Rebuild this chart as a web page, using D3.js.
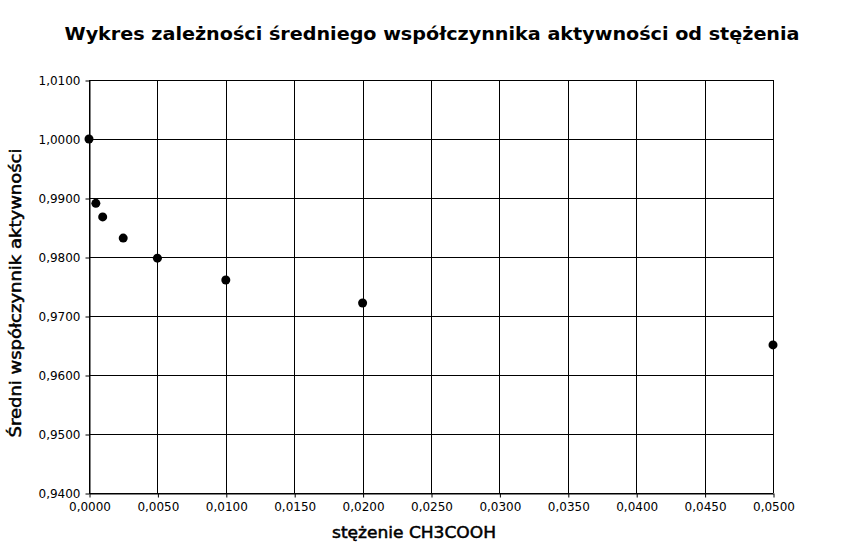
<!DOCTYPE html>
<html><head><meta charset="utf-8">
<script src="https://cdn.jsdelivr.net/npm/d3@7"></script>
<style>body{margin:0;background:#fff}svg{display:block}text{font-family:"DejaVu Sans",sans-serif}</style>
</head><body><svg id="c" width="866" height="548"></svg>
<script>
const concentrations = [0, 0.0005, 0.001, 0.0025, 0.005, 0.01, 0.02, 0.05];
const activity = [1.0000, 0.9891, 0.9868, 0.9832, 0.9798, 0.9761, 0.9722, 0.9651];
const xTicks = d3.range(0, 0.05001, 0.005);
const yTicks = d3.range(0.94, 1.01001, 0.01);
const title = "Wykres zależności średniego współczynnika aktywności od stężenia";
const xLabel = "stężenie CH3COOH";
const yLabel = "Średni współczynnik aktywności";

const svg = d3.select("#c");
const m = {l: 89, r: 773, t: 80, b: 493};
const x = d3.scaleLinear().domain([0, 0.05]).range([m.l, m.r]);
const y = d3.scaleLinear().domain([0.94, 1.01]).range([m.b, m.t]);
const fmt = d => d.toFixed(4).replace(".", ",");

// grid
svg.append("g").selectAll("line").data(xTicks).join("line")
  .attr("x1", d => Math.round(x(d)) + 0.5).attr("x2", d => Math.round(x(d)) + 0.5)
  .attr("y1", m.t).attr("y2", m.b).attr("stroke", "#000");
svg.append("g").selectAll("line").data(yTicks).join("line")
  .attr("y1", d => Math.round(y(d)) + 0.5).attr("y2", d => Math.round(y(d)) + 0.5)
  .attr("x1", m.l).attr("x2", m.r).attr("stroke", "#000");

const xAxis = svg.append("g").attr("transform", `translate(0.5,${m.b + 0.5})`)
  .call(d3.axisBottom(x).tickValues(xTicks).tickFormat(fmt).tickSize(4).tickPadding(5).tickSizeOuter(0));
const yAxis = svg.append("g").attr("transform", `translate(${m.l + 0.5},0.5)`)
  .call(d3.axisLeft(y).tickValues(yTicks).tickFormat(fmt).tickSize(4).tickPadding(5).tickSizeOuter(0));
[xAxis, yAxis].forEach(a => {
  a.select(".domain").attr("stroke", "#000");
  a.selectAll(".tick line").attr("stroke", "#000");
  a.selectAll("text").attr("font-family", "DejaVu Sans").attr("font-size", 12).attr("fill", "#000");
});

svg.append("g").selectAll("circle").data(concentrations).join("circle")
  .attr("cx", (d) => x(d)).attr("cy", (d, i) => y(activity[i])).attr("r", 4.5).attr("fill", "#000");

svg.append("text").attr("x", 432).attr("y", 40).attr("text-anchor", "middle")
  .attr("font-weight", "bold").attr("font-size", 18)
  .attr("textLength", 735).attr("lengthAdjust", "spacingAndGlyphs").text(title);
svg.append("text").attr("x", 414).attr("y", 538).attr("text-anchor", "middle")
  .attr("font-size", 16).attr("stroke", "#000").attr("stroke-width", 0.5)
  .attr("textLength", 164).attr("lengthAdjust", "spacingAndGlyphs").text(xLabel);
svg.append("text").attr("transform", "translate(21,293) rotate(-90)").attr("text-anchor", "middle")
  .attr("font-size", 16).attr("stroke", "#000").attr("stroke-width", 0.5)
  .attr("textLength", 289).attr("lengthAdjust", "spacingAndGlyphs").text(yLabel);
</script></body></html>
